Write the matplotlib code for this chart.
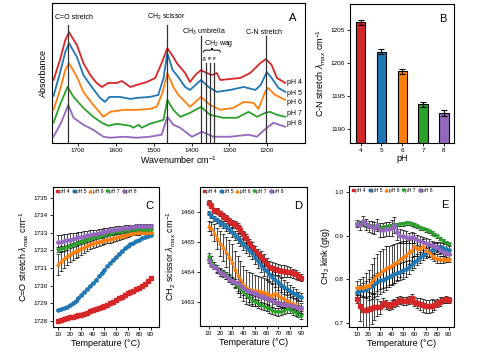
import numpy as np
import matplotlib
matplotlib.use("Agg")
import matplotlib.pyplot as plt
from matplotlib.lines import Line2D
from matplotlib.path import Path
from matplotlib.patches import PathPatch

plt.rcParams['font.family'] = ['Liberation Sans', 'DejaVu Sans']
plt.rcParams['mathtext.fontset'] = 'custom'
plt.rcParams['mathtext.rm'] = 'Liberation Sans'
plt.rcParams['mathtext.it'] = 'Liberation Sans:italic'

# ---- data ----
ph_labels = ['pH 4', 'pH 5', 'pH 6', 'pH 7', 'pH 8']
colors = ['#d62728', '#1f77b4', '#ff7f0e', '#2ca02c', '#9467bd']
markers = ['s', 'o', '^', 'v', 'D']

# A: FTIR spectra (arbitrary absorbance, stacked)
wn_ph4 = [1765, 1748, 1734, 1724, 1703, 1686, 1668, 1651, 1637, 1620, 1598, 1584, 1562, 1545, 1518, 1496,
          1479, 1464, 1448, 1439, 1417, 1404, 1390, 1375, 1360, 1346, 1333, 1324, 1298, 1271, 1245, 1218,
          1203, 1188, 1174, 1152]
ab_ph4 = [0.63, 0.83, 1.03, 1.11, 0.98, 0.80, 0.68, 0.60, 0.56, 0.60, 0.60, 0.62, 0.56, 0.58, 0.61, 0.65,
          0.80, 0.95, 0.86, 0.80, 0.70, 0.61, 0.68, 0.73, 0.70, 0.68, 0.70, 0.63, 0.64, 0.65, 0.70, 0.80,
          0.84, 0.78, 0.65, 0.60]
wn_ph5 = [1765, 1748, 1734, 1724, 1703, 1686, 1664, 1642, 1629, 1617, 1589, 1562, 1545, 1510, 1488, 1474,
          1464, 1450, 1439, 1417, 1404, 1375, 1355, 1333, 1298, 1262, 1231, 1217, 1201, 1188, 1170, 1152]
ab_ph5 = [0.47, 0.70, 0.91, 1.00, 0.86, 0.68, 0.56, 0.45, 0.41, 0.46, 0.46, 0.44, 0.45, 0.46, 0.48, 0.65,
          0.90, 0.73, 0.68, 0.56, 0.53, 0.63, 0.56, 0.51, 0.53, 0.56, 0.53, 0.58, 0.71, 0.65, 0.55, 0.51]
wn_ph6 = [1765, 1748, 1734, 1724, 1703, 1686, 1664, 1642, 1633, 1615, 1580, 1545, 1510, 1492, 1476, 1464,
          1448, 1435, 1404, 1375, 1351, 1324, 1289, 1262, 1236, 1223, 1205, 1197, 1179, 1152]
ab_ph6 = [0.33, 0.53, 0.73, 0.80, 0.66, 0.51, 0.40, 0.30, 0.26, 0.31, 0.33, 0.33, 0.34, 0.36, 0.51, 0.70,
          0.56, 0.48, 0.36, 0.46, 0.38, 0.33, 0.35, 0.41, 0.40, 0.34, 0.51, 0.55, 0.48, 0.43]
wn_ph7 = [1765, 1748, 1728, 1712, 1686, 1660, 1637, 1620, 1598, 1562, 1554, 1540, 1532, 1510, 1474, 1464,
          1448, 1430, 1404, 1375, 1351, 1316, 1280, 1249, 1227, 1205, 1192, 1174, 1152]
ab_ph7 = [0.20, 0.38, 0.56, 0.46, 0.35, 0.26, 0.20, 0.17, 0.19, 0.17, 0.15, 0.18, 0.15, 0.19, 0.23, 0.43,
          0.33, 0.26, 0.30, 0.36, 0.28, 0.25, 0.25, 0.31, 0.26, 0.30, 0.31, 0.28, 0.26]
wn_ph8 = [1765, 1745, 1726, 1712, 1686, 1660, 1633, 1615, 1580, 1545, 1510, 1479, 1464, 1448, 1430, 1399,
          1372, 1342, 1298, 1249, 1227, 1201, 1183, 1152]
ab_ph8 = [0.06, 0.20, 0.38, 0.25, 0.18, 0.13, 0.06, 0.05, 0.06, 0.05, 0.06, 0.08, 0.26, 0.18, 0.15, 0.06,
          0.11, 0.06, 0.06, 0.08, 0.06, 0.15, 0.20, 0.16]
label_y = [0.60, 0.49, 0.40, 0.29, 0.19]

# B: C-N stretch position
ph_values = [4, 5, 6, 7, 8]
cn_max = [1206.1, 1201.7, 1198.7, 1193.7, 1192.4]
cn_err = [0.35, 0.4, 0.35, 0.4, 0.45]

# C-E: temperature series
temps = [10, 12.5, 15, 17.5, 20, 22.5, 25, 27.5, 30, 32.5, 35, 37.5, 40, 42.5, 45, 47.5, 50,
         52.5, 55, 57.5, 60, 62.5, 65, 67.5, 70, 72.5, 75, 77.5, 80, 82.5, 85, 87.5, 90]

co_ph4 = [1728.02, 1728.06, 1728.10, 1728.15, 1728.20, 1728.24, 1728.28, 1728.32, 1728.36, 1728.42, 1728.48,
          1728.55, 1728.60, 1728.67, 1728.74, 1728.80, 1728.86, 1728.93, 1729.00, 1729.10, 1729.20, 1729.30,
          1729.38, 1729.48, 1729.56, 1729.65, 1729.72, 1729.80, 1729.88, 1729.98, 1730.10, 1730.28, 1730.45]
co_ph5 = [1728.63, 1728.70, 1728.75, 1728.82, 1728.90, 1729.00, 1729.15, 1729.32, 1729.45, 1729.62, 1729.80,
          1730.00, 1730.15, 1730.32, 1730.55, 1730.75, 1730.92, 1731.10, 1731.30, 1731.48, 1731.65, 1731.82,
          1731.98, 1732.12, 1732.25, 1732.36, 1732.45, 1732.55, 1732.62, 1732.70, 1732.76, 1732.84, 1732.90]
co_ph6 = [1731.22, 1731.40, 1731.55, 1731.68, 1731.80, 1731.90, 1731.98, 1732.05, 1732.12, 1732.20, 1732.30,
          1732.38, 1732.43, 1732.48, 1732.52, 1732.55, 1732.60, 1732.64, 1732.67, 1732.72, 1732.76, 1732.80,
          1732.84, 1732.88, 1732.93, 1732.97, 1733.00, 1733.02, 1733.04, 1733.05, 1733.05, 1733.04, 1733.04]
co_ph7 = [1732.04, 1732.08, 1732.12, 1732.18, 1732.25, 1732.30, 1732.38, 1732.44, 1732.50, 1732.56, 1732.61,
          1732.66, 1732.70, 1732.75, 1732.79, 1732.83, 1732.87, 1732.92, 1732.96, 1732.99, 1733.02, 1733.04,
          1733.06, 1733.09, 1733.12, 1733.15, 1733.17, 1733.18, 1733.19, 1733.18, 1733.17, 1733.16, 1733.15]
co_ph8 = [1732.47, 1732.50, 1732.54, 1732.58, 1732.62, 1732.66, 1732.70, 1732.75, 1732.78, 1732.82, 1732.86,
          1732.90, 1732.93, 1732.96, 1732.99, 1733.02, 1733.06, 1733.10, 1733.14, 1733.17, 1733.20, 1733.22,
          1733.25, 1733.28, 1733.30, 1733.32, 1733.34, 1733.36, 1733.38, 1733.39, 1733.39, 1733.39, 1733.38]
co_err_ph4 = [0.05, 0.06, 0.08, 0.10, 0.10, 0.10, 0.09, 0.08, 0.08, 0.07, 0.07, 0.07, 0.06, 0.06, 0.06, 0.06,
              0.06, 0.06, 0.06, 0.06, 0.07, 0.07, 0.08, 0.08, 0.08, 0.08, 0.09, 0.09, 0.09, 0.08, 0.08, 0.07, 0.07]
co_err_ph5 = [0.04] * 33
co_err_ph6 = [0.60, 0.58, 0.55, 0.50, 0.48, 0.45, 0.42, 0.40, 0.38, 0.36, 0.34, 0.32, 0.30, 0.28, 0.27, 0.26,
              0.25, 0.24, 0.23, 0.22, 0.21, 0.20, 0.19, 0.18, 0.17, 0.16, 0.15, 0.15, 0.14, 0.13, 0.12, 0.12, 0.11]
co_err_ph7 = [0.15, 0.15, 0.14, 0.14, 0.13, 0.13, 0.12, 0.12, 0.12, 0.11, 0.11, 0.11, 0.10, 0.10, 0.10, 0.10,
              0.10, 0.09, 0.09, 0.09, 0.09, 0.09, 0.08, 0.08, 0.08, 0.08, 0.08, 0.08, 0.08, 0.08, 0.08, 0.08, 0.08]
co_err_ph8 = [0.40, 0.40, 0.38, 0.36, 0.35, 0.33, 0.31, 0.30, 0.28, 0.27, 0.25, 0.24, 0.23, 0.22, 0.21, 0.20,
              0.19, 0.18, 0.17, 0.16, 0.16, 0.15, 0.15, 0.14, 0.14, 0.13, 0.13, 0.12, 0.12, 0.12, 0.12, 0.12, 0.12]

sc_ph4 = [1466.30, 1466.20, 1466.05, 1466.02, 1465.95, 1465.85, 1465.78, 1465.70, 1465.62, 1465.58, 1465.50,
          1465.40, 1465.25, 1465.12, 1464.95, 1464.85, 1464.70, 1464.60, 1464.50, 1464.40, 1464.28, 1464.18,
          1464.13, 1464.10, 1464.07, 1464.05, 1464.04, 1464.02, 1464.00, 1463.96, 1463.93, 1463.88, 1463.82]
sc_ph5 = [1465.95, 1465.85, 1465.78, 1465.72, 1465.64, 1465.58, 1465.50, 1465.42, 1465.32, 1465.22, 1465.13,
          1465.04, 1464.92, 1464.82, 1464.74, 1464.64, 1464.50, 1464.37, 1464.25, 1464.12, 1464.03, 1463.95,
          1463.85, 1463.75, 1463.66, 1463.58, 1463.51, 1463.45, 1463.38, 1463.32, 1463.27, 1463.22, 1463.18]
sc_ph6 = [1465.53, 1465.45, 1465.30, 1465.12, 1464.95, 1464.82, 1464.68, 1464.50, 1464.35, 1464.10, 1463.92,
          1463.78, 1463.62, 1463.50, 1463.45, 1463.42, 1463.40, 1463.38, 1463.37, 1463.35, 1463.30, 1463.26,
          1463.24, 1463.32, 1463.25, 1463.18, 1463.13, 1463.08, 1463.03, 1462.97, 1462.92, 1462.86, 1462.80]
sc_ph7 = [1464.50, 1464.38, 1464.22, 1464.10, 1464.01, 1463.96, 1463.90, 1463.80, 1463.72, 1463.60, 1463.50,
          1463.44, 1463.36, 1463.25, 1463.15, 1463.06, 1463.00, 1462.95, 1462.90, 1462.86, 1462.82, 1462.78,
          1462.73, 1462.69, 1462.68, 1462.69, 1462.72, 1462.77, 1462.74, 1462.69, 1462.65, 1462.60, 1462.55]
sc_ph8 = [1464.40, 1464.25, 1464.18, 1464.10, 1464.02, 1463.95, 1463.86, 1463.78, 1463.72, 1463.68, 1463.64,
          1463.58, 1463.48, 1463.40, 1463.37, 1463.33, 1463.30, 1463.25, 1463.22, 1463.19, 1463.16, 1463.12,
          1463.08, 1463.02, 1462.97, 1462.95, 1462.94, 1462.92, 1462.90, 1462.88, 1462.85, 1462.82, 1462.80]
sc_err_ph4 = [0.08, 0.08, 0.08, 0.09, 0.09, 0.10, 0.10, 0.10, 0.11, 0.11, 0.12, 0.12, 0.13, 0.14, 0.15, 0.16,
              0.17, 0.18, 0.19, 0.20, 0.20, 0.20, 0.20, 0.20, 0.20, 0.20, 0.19, 0.18, 0.17, 0.16, 0.15, 0.14, 0.12]
sc_err_ph5 = [0.06, 0.07, 0.08, 0.09, 0.10, 0.11, 0.12, 0.13, 0.14, 0.15, 0.16, 0.17, 0.18, 0.19, 0.20, 0.21,
              0.22, 0.23, 0.24, 0.25, 0.25, 0.25, 0.25, 0.25, 0.24, 0.23, 0.22, 0.21, 0.20, 0.18, 0.16, 0.14, 0.12]
sc_err_ph6 = [0.18, 0.22, 0.28, 0.34, 0.40, 0.45, 0.50, 0.55, 0.58, 0.60, 0.60, 0.60, 0.58, 0.56, 0.55, 0.54,
              0.52, 0.50, 0.48, 0.46, 0.44, 0.42, 0.40, 0.38, 0.35, 0.32, 0.30, 0.28, 0.26, 0.24, 0.22, 0.20, 0.18]
sc_err_ph7 = [0.14, 0.14, 0.13, 0.13, 0.12, 0.12, 0.12, 0.12, 0.12, 0.12, 0.12, 0.12, 0.12, 0.12, 0.12, 0.12,
              0.12, 0.12, 0.12, 0.12, 0.12, 0.12, 0.12, 0.12, 0.12, 0.12, 0.11, 0.11, 0.10, 0.10, 0.10, 0.09, 0.09]
sc_err_ph8 = [0.08] * 33

kk_ph4 = [0.754, 0.738, 0.729, 0.728, 0.731, 0.733, 0.735, 0.735, 0.735, 0.746, 0.742, 0.738, 0.742, 0.745,
          0.748, 0.752, 0.750, 0.750, 0.752, 0.756, 0.748, 0.745, 0.742, 0.740, 0.738, 0.738, 0.739, 0.741,
          0.745, 0.748, 0.752, 0.754, 0.752]
kk_ph5 = [0.771, 0.772, 0.775, 0.778, 0.781, 0.785, 0.789, 0.793, 0.797, 0.799, 0.803, 0.806, 0.809, 0.812,
          0.815, 0.817, 0.820, 0.823, 0.827, 0.835, 0.840, 0.845, 0.850, 0.856, 0.860, 0.863, 0.866, 0.870,
          0.874, 0.873, 0.871, 0.869, 0.867]
kk_ph6 = [0.781, 0.782, 0.783, 0.785, 0.787, 0.795, 0.803, 0.810, 0.815, 0.820, 0.825, 0.829, 0.832, 0.836,
          0.840, 0.846, 0.851, 0.856, 0.862, 0.867, 0.875, 0.872, 0.872, 0.876, 0.868, 0.862, 0.856, 0.851,
          0.848, 0.846, 0.846, 0.847, 0.847]
kk_ph7 = [0.927, 0.926, 0.925, 0.924, 0.922, 0.921, 0.920, 0.919, 0.918, 0.919, 0.920, 0.921, 0.922, 0.924,
          0.925, 0.926, 0.927, 0.928, 0.928, 0.926, 0.924, 0.921, 0.918, 0.916, 0.913, 0.910, 0.906, 0.902,
          0.898, 0.893, 0.888, 0.884, 0.880]
kk_ph8 = [0.927, 0.924, 0.934, 0.926, 0.921, 0.919, 0.918, 0.925, 0.912, 0.913, 0.915, 0.916, 0.918, 0.924,
          0.908, 0.900, 0.898, 0.897, 0.895, 0.896, 0.894, 0.890, 0.887, 0.885, 0.883, 0.880, 0.878, 0.876,
          0.874, 0.868, 0.862, 0.860, 0.858]
kk_err_ph4 = [0.010, 0.035, 0.045, 0.045, 0.040, 0.035, 0.030, 0.020, 0.015, 0.010, 0.010, 0.010, 0.010, 0.010,
              0.010, 0.010, 0.010, 0.010, 0.010, 0.010, 0.010, 0.012, 0.014, 0.015, 0.015, 0.015, 0.015, 0.012,
              0.010, 0.010, 0.008, 0.008, 0.008]
kk_err_ph5 = [0.012, 0.014, 0.016, 0.018, 0.020, 0.020, 0.020, 0.020, 0.020, 0.020, 0.020, 0.020, 0.020, 0.020,
              0.020, 0.020, 0.020, 0.018, 0.016, 0.015, 0.014, 0.013, 0.012, 0.012, 0.012, 0.012, 0.012, 0.012,
              0.012, 0.012, 0.012, 0.012, 0.012]
kk_err_ph6 = [0.015, 0.018, 0.022, 0.028, 0.034, 0.040, 0.045, 0.048, 0.050, 0.050, 0.050, 0.048, 0.046, 0.044,
              0.042, 0.040, 0.036, 0.032, 0.028, 0.025, 0.022, 0.020, 0.018, 0.016, 0.014, 0.012, 0.010, 0.010,
              0.010, 0.008, 0.008, 0.008, 0.008]
kk_err_ph7 = [0.004] * 33
kk_err_ph8 = [0.008, 0.010, 0.012, 0.012, 0.012, 0.014, 0.014, 0.014, 0.016, 0.016, 0.016, 0.016, 0.018, 0.018,
              0.018, 0.016, 0.014, 0.014, 0.012, 0.012, 0.012, 0.012, 0.012, 0.012, 0.012, 0.012, 0.010, 0.010,
              0.010, 0.010, 0.010, 0.010, 0.010]

# ---- figure ----
fig = plt.figure(figsize=(4.79, 3.61), dpi=100)

tick_kw = dict(direction='out', length=2.2, width=0.6, labelsize=4.6, pad=1.5)


def style(ax):
    for s in ax.spines.values():
        s.set_linewidth(0.8)
    ax.tick_params(**tick_kw)


# Panel A
axA = fig.add_axes([0.1086, 0.6047, 0.528, 0.386])
wns = [wn_ph4, wn_ph5, wn_ph6, wn_ph7, wn_ph8]
abs_ = [ab_ph4, ab_ph5, ab_ph6, ab_ph7, ab_ph8]
for w, a, c, lab, ly in zip(wns, abs_, colors, ph_labels, label_y):
    axA.plot(w, a, color=c, lw=1.3, zorder=3, solid_joinstyle='round')
    axA.text(1148, ly, lab, fontsize=5, va='center', ha='left')

# band markers
bands = [(1727, 1.18), (1465, 1.18), (1376, 1.07), (1362, 0.80), (1350, 0.80), (1340, 0.80), (1204, 1.07)]
for b, top in bands:
    axA.plot([b, b], [0, top], color='#333333', lw=0.9, zorder=4)
axA.text(1712, 1.26, 'C=O stretch', fontsize=5, ha='center', va='center')
axA.text(1466, 1.26, 'CH$_2$ scissor', fontsize=5, ha='center', va='center')
axA.text(1368, 1.11, 'CH$_3$ umbrella', fontsize=5, ha='center', va='center')
axA.text(1208, 1.11, 'C-N stretch', fontsize=5, ha='center', va='center')
axA.text(1328, 1.00, 'CH$_2$ wag', fontsize=5, ha='center', va='center')
# curly brace over the wag bands
bx0, bx1, by = 1368, 1324, 0.93
bm = (bx0 + bx1) / 2
verts = [(bx0, by - 0.025), (bx0, by), (bx0 - 4, by), (bm + 4, by), (bm, by), (bm, by + 0.02),
         (bm, by + 0.02), (bm, by), (bm - 4, by), (bx1 + 4, by), (bx1, by), (bx1, by - 0.025)]
codes = [Path.MOVETO, Path.CURVE3, Path.CURVE3, Path.LINETO, Path.CURVE3, Path.CURVE3,
         Path.MOVETO, Path.CURVE3, Path.CURVE3, Path.LINETO, Path.CURVE3, Path.CURVE3]
axA.add_patch(PathPatch(Path(verts, codes), fill=False, lw=0.7, color='black'))
for b, lab in zip([1364, 1352, 1339], ['gtg', 'gg', 'eg']):
    axA.text(b, 0.86, lab, fontsize=2.8, rotation=90, ha='center', va='center')

axA.set_xlim(1769, 1100)
axA.set_ylim(0, 1.40)
axA.set_yticks([])
axA.set_xticks([1700, 1600, 1500, 1400, 1300, 1200])
axA.set_xlabel('Wavenumber cm$^{-1}$', fontsize=6.5, labelpad=1)
axA.set_ylabel('Absorbance', fontsize=6.5, labelpad=3)
axA.text(0.965, 0.93, 'A', transform=axA.transAxes, fontsize=8, ha='right', va='top')
style(axA)

# Panel B
axB = fig.add_axes([0.7307, 0.6047, 0.2171, 0.3842])
axB.bar(ph_values, cn_max, width=0.45, color=colors, edgecolor='black', linewidth=0.8,
        yerr=cn_err, error_kw=dict(ecolor='black', elinewidth=0.8, capsize=2, capthick=0.8))
axB.set_xlim(3.49, 8.48)
axB.set_ylim(1187.9, 1208.9)
axB.set_xticks(ph_values)
axB.set_yticks([1190, 1195, 1200, 1205])
axB.set_xlabel('pH', fontsize=6.5, labelpad=1)
axB.set_ylabel(r'C-N stretch $\lambda_{max}$ cm$^{-1}$', fontsize=6.5, labelpad=2)
axB.text(0.93, 0.93, 'B', transform=axB.transAxes, fontsize=8, ha='right', va='top')
style(axB)


def temp_panel(rect, series, errs, xlim, ylim, yticks, ylabel, letter, yfmt=None):
    ax = fig.add_axes(rect)
    for v, e in zip(series, errs):
        ax.errorbar(temps, v, yerr=e, fmt='none', ecolor='black', elinewidth=0.5,
                    capsize=1.2, capthick=0.5, zorder=2)
    for v, c, m in zip(series, colors, markers):
        ms = 2.3 if m != 'D' else 2.1
        ax.plot(temps, v, color=c, lw=1.0, marker=m, markersize=ms, zorder=3)
    ax.set_xlim(*xlim)
    ax.set_ylim(*ylim)
    ax.set_xticks([10, 20, 30, 40, 50, 60, 70, 80, 90])
    ax.set_yticks(yticks)
    if yfmt:
        ax.set_yticklabels([yfmt % t for t in yticks])
    ax.set_xlabel('Temperature (°C)', fontsize=6.5, labelpad=1)
    ax.set_ylabel(ylabel, fontsize=6.5, labelpad=2)
    handles = [Line2D([], [], color=c, marker=m, ls='none', markersize=2)
               for c, m in zip(colors, markers)]
    ax.legend(handles, ph_labels, loc='upper left', ncol=5, fontsize=3.6, frameon=False,
              handlelength=0.6, handletextpad=0.15, columnspacing=0.5, borderaxespad=0.25,
              borderpad=0.2)
    ax.text(0.95, 0.90, letter, transform=ax.transAxes, fontsize=8, ha='right', va='top')
    style(ax)
    return ax


temp_panel([0.1106, 0.0942, 0.2213, 0.3878],
           [co_ph4, co_ph5, co_ph6, co_ph7, co_ph8],
           [co_err_ph4, co_err_ph5, co_err_ph6, co_err_ph7, co_err_ph8],
           (5.4, 97.2), (1727.66, 1735.6), list(range(1728, 1736)),
           r'C=O stretch $\lambda_{max}$ cm$^{-1}$', 'C')
temp_panel([0.4175, 0.097, 0.2234, 0.385],
           [sc_ph4, sc_ph5, sc_ph6, sc_ph7, sc_ph8],
           [sc_err_ph4, sc_err_ph5, sc_err_ph6, sc_err_ph7, sc_err_ph8],
           (2.6, 94.9), (1462.22, 1466.82), [1463, 1464, 1465, 1466],
           r'CH$_2$ scissor $\lambda_{max}$ cm$^{-1}$', 'D')
temp_panel([0.7286, 0.0942, 0.2192, 0.3906],
           [kk_ph4, kk_ph5, kk_ph6, kk_ph7, kk_ph8],
           [kk_err_ph4, kk_err_ph5, kk_err_ph6, kk_err_ph7, kk_err_ph8],
           (2.7, 94.6), (0.690, 1.014), [0.7, 0.8, 0.9, 1.0],
           'CH$_2$ kink (gtg)', 'E', yfmt='%.1f')

fig.savefig('out.png', dpi=100)
